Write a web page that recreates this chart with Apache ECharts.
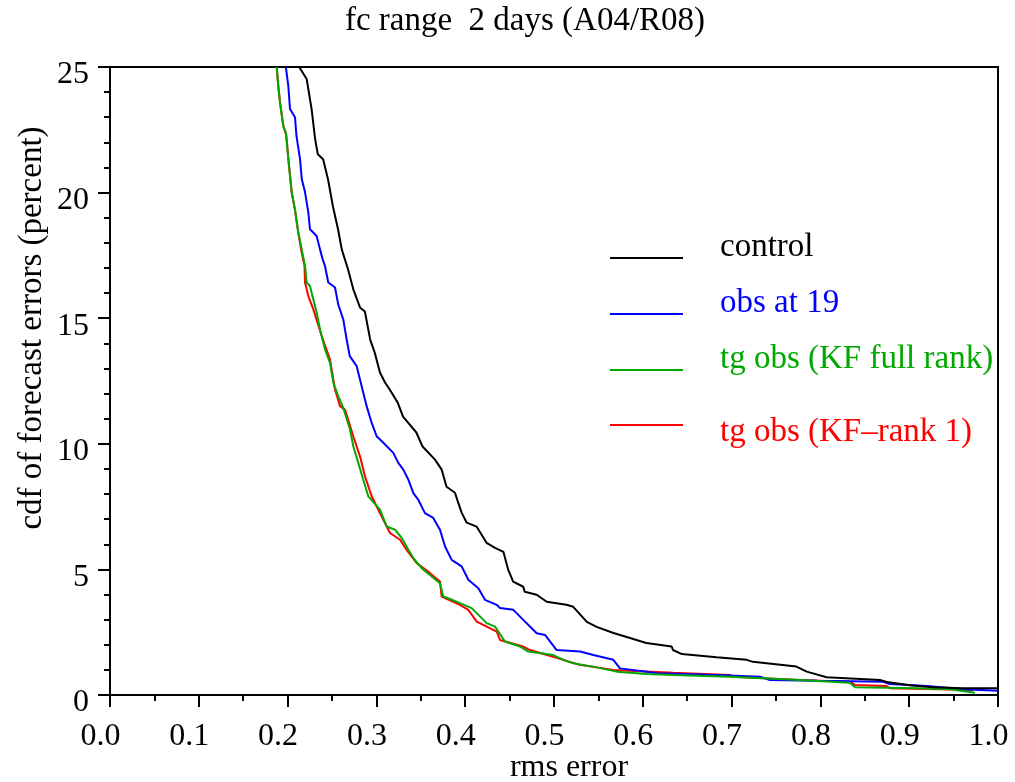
<!DOCTYPE html>
<html>
<head>
<meta charset="utf-8">
<script src="https://cdn.jsdelivr.net/npm/echarts@6/dist/echarts.min.js"></script>
<style>html,body{margin:0;padding:0;background:#fff}#c{width:1015px;height:782px}</style>
</head>
<body>
<div id="c"></div>
<script>
var titleText = 'fc range  2 days (A04/R08)';
var xName = 'rms error';
var yName = 'cdf of forecast errors (percent)';
var seriesNames = ['control', 'obs at 19', 'tg obs (KF full rank)', 'tg obs (KF\u2013rank 1)'];
var seriesColors = ['#000000', '#0000ff', '#00a800', '#ff0000'];

var controlData = [[0.213,25],[0.2215,24.52],[0.227,23.33],[0.231,22.13],[0.234,21.53],[0.240,21.33],[0.2455,20.53],[0.251,19.46],[0.2568,18.54],[0.261,17.74],[0.268,16.95],[0.274,16.15],[0.2815,15.43],[0.287,15.27],[0.293,14.15],[0.298,13.64],[0.304,12.84],[0.3097,12.44],[0.315,12.16],[0.324,11.64],[0.330,11.08],[0.345,10.45],[0.352,9.89],[0.366,9.37],[0.3735,8.97],[0.379,8.29],[0.3885,8.05],[0.391,7.78],[0.396,7.26],[0.4017,6.86],[0.413,6.70],[0.424,6.06],[0.4336,5.86],[0.443,5.70],[0.4485,4.98],[0.454,4.51],[0.4654,4.31],[0.467,4.11],[0.4805,3.99],[0.4918,3.71],[0.514,3.59],[0.5217,3.51],[0.537,2.91],[0.548,2.71],[0.567,2.47],[0.5856,2.27],[0.604,2.07],[0.6325,1.93],[0.634,1.79],[0.644,1.63],[0.683,1.50],[0.717,1.40],[0.724,1.32],[0.773,1.13],[0.7846,0.93],[0.807,0.71],[0.867,0.60],[0.8746,0.52],[0.901,0.39],[0.927,0.31],[0.9606,0.27],[1.0,0.27]];

var obs19Data = [[0.198,25],[0.2008,24.25],[0.2027,23.33],[0.2083,23.0],[0.210,22.26],[0.214,21.33],[0.216,20.53],[0.2196,20.02],[0.2233,19.22],[0.2252,18.54],[0.2327,18.27],[0.2365,17.74],[0.2395,17.34],[0.2421,17.08],[0.2458,16.42],[0.2534,16.22],[0.257,15.55],[0.2627,14.95],[0.2665,14.15],[0.270,13.49],[0.2778,13.09],[0.2834,12.29],[0.289,11.50],[0.2947,10.83],[0.3003,10.30],[0.3078,10.04],[0.319,9.64],[0.3247,9.24],[0.3303,8.97],[0.336,8.57],[0.3416,8.04],[0.347,7.78],[0.3547,7.24],[0.364,7.05],[0.3716,6.58],[0.3773,5.91],[0.3848,5.38],[0.396,5.12],[0.4035,4.59],[0.4148,4.25],[0.4223,3.79],[0.4355,3.59],[0.4392,3.46],[0.4542,3.39],[0.4654,2.99],[0.4749,2.66],[0.4805,2.46],[0.4899,2.39],[0.503,1.79],[0.5293,1.73],[0.5443,1.59],[0.5668,1.40],[0.5743,1.06],[0.6044,0.93],[0.6157,0.87],[0.683,0.80],[0.732,0.73],[0.743,0.60],[0.796,0.57],[0.871,0.53],[0.878,0.44],[0.92,0.36],[0.961,0.23],[1.0,0.17]];

var kfFullData = [[0.1877,25],[0.1895,24.25],[0.1914,23.6],[0.195,22.66],[0.198,22.4],[0.2008,21.33],[0.2046,20.02],[0.2083,19.34],[0.212,18.42],[0.2159,17.74],[0.2196,17.08],[0.2215,16.42],[0.2252,16.28],[0.2289,15.75],[0.2328,15.22],[0.2365,14.55],[0.2421,13.76],[0.2477,13.23],[0.2515,12.43],[0.2571,11.89],[0.2627,11.43],[0.2703,10.57],[0.274,9.90],[0.2796,9.24],[0.2852,8.57],[0.2909,7.91],[0.304,7.38],[0.3116,6.71],[0.321,6.58],[0.3285,6.25],[0.336,5.78],[0.3416,5.45],[0.351,5.05],[0.3623,4.72],[0.3716,4.45],[0.3753,3.92],[0.3829,3.82],[0.394,3.66],[0.4073,3.46],[0.4242,2.86],[0.4336,2.72],[0.4448,2.13],[0.4617,1.93],[0.471,1.73],[0.4992,1.59],[0.5105,1.40],[0.5217,1.26],[0.548,1.10],[0.5706,0.93],[0.6044,0.84],[0.634,0.80],[0.698,0.73],[0.777,0.60],[0.833,0.49],[0.839,0.31],[0.908,0.27],[0.946,0.23],[0.974,0.09]];

var kfRank1Data = [[0.1877,25],[0.1895,24.25],[0.1914,23.6],[0.1955,22.6],[0.1985,22.3],[0.201,21.3],[0.2046,20.0],[0.2083,19.3],[0.2125,18.3],[0.2159,17.6],[0.219,17.1],[0.2196,16.42],[0.2233,15.88],[0.229,15.35],[0.2384,14.29],[0.2477,13.36],[0.2534,12.16],[0.259,11.50],[0.2646,11.36],[0.274,10.30],[0.2815,9.50],[0.2872,8.70],[0.2947,7.91],[0.304,7.24],[0.3153,6.45],[0.3266,6.18],[0.334,5.78],[0.3454,5.25],[0.3604,4.85],[0.3716,4.52],[0.3735,3.92],[0.394,3.59],[0.4035,3.39],[0.413,2.92],[0.4355,2.52],[0.4392,2.19],[0.4654,1.93],[0.473,1.79],[0.5105,1.40],[0.529,1.20],[0.5668,1.00],[0.634,0.89],[0.698,0.80],[0.7016,0.73],[0.777,0.60],[0.833,0.53],[0.839,0.40],[0.8747,0.36],[0.878,0.27],[0.972,0.20]];

var seriesData = [controlData, obs19Data, kfFullData, kfRank1Data];
var drawOrder = [3, 1, 2, 0];

var FONT = 'Liberation Serif, Times New Roman, serif';
var chart = echarts.init(document.getElementById('c'), null, {renderer: 'canvas'});

var series = drawOrder.map(function (i) {
  return {
    name: seriesNames[i], type: 'line', data: seriesData[i],
    symbol: 'none', showSymbol: false, clip: true,
    lineStyle: {color: seriesColors[i], width: 2}, itemStyle: {color: seriesColors[i]},
    z: 2
  };
});

var legendY = [258, 314, 370, 425];
var legendTextY = [247, 303, 359, 432];
var graphics = [
  {type: 'text', x: 525, y: 21, style: {text: titleText, font: '33px ' + FONT, fill: '#000', align: 'center', verticalAlign: 'middle'}},
  {type: 'text', x: 32, y: 328, rotation: Math.PI / 2, style: {text: yName, font: '33px ' + FONT, fill: '#000', align: 'center', verticalAlign: 'middle'}},
  {type: 'text', x: 569, y: 768, style: {text: xName, font: '32px ' + FONT, fill: '#000', align: 'center', verticalAlign: 'middle'}}
];
for (var k = 0; k < seriesNames.length; k++) {
  graphics.push({type: 'line', shape: {x1: 610, y1: legendY[k], x2: 683, y2: legendY[k]}, style: {stroke: seriesColors[k], lineWidth: 2}});
  graphics.push({type: 'text', x: 720, y: legendTextY[k], style: {text: seriesNames[k], font: '33px ' + FONT, fill: seriesColors[k], align: 'left', verticalAlign: 'middle'}});
}

chart.setOption({
  animation: false,
  backgroundColor: '#fff',
  grid: {left: 110, right: 17, top: 67, bottom: 87, show: true, borderColor: '#000', borderWidth: 2, backgroundColor: 'transparent'},
  xAxis: {
    type: 'value', min: 0, max: 1, interval: 0.1,
    axisLine: {show: true, onZero: false, lineStyle: {color: '#000', width: 2}},
    axisTick: {show: true, inside: false, length: 12, lineStyle: {color: '#000', width: 2}},
    minorTick: {show: true, splitNumber: 2, length: 6, lineStyle: {color: '#000', width: 2}},
    splitLine: {show: false}, minorSplitLine: {show: false},
    axisLabel: {color: '#000', fontFamily: FONT, fontSize: 32, margin: 26, padding: [0, 19, 0, 0],
      formatter: function (v) { return v.toFixed(1); }}
  },
  yAxis: {
    type: 'value', min: 0, max: 25, interval: 5,
    axisLine: {show: true, onZero: false, lineStyle: {color: '#000', width: 2}},
    axisTick: {show: true, inside: false, length: 12, lineStyle: {color: '#000', width: 2}},
    minorTick: {show: true, splitNumber: 5, length: 6, lineStyle: {color: '#000', width: 2}},
    splitLine: {show: false}, minorSplitLine: {show: false},
    axisLabel: {color: '#000', fontFamily: FONT, fontSize: 32, margin: 21, verticalAlign: 'top', lineHeight: 16}
  },
  series: series,
  graphic: graphics
});
</script>
</body>
</html>
